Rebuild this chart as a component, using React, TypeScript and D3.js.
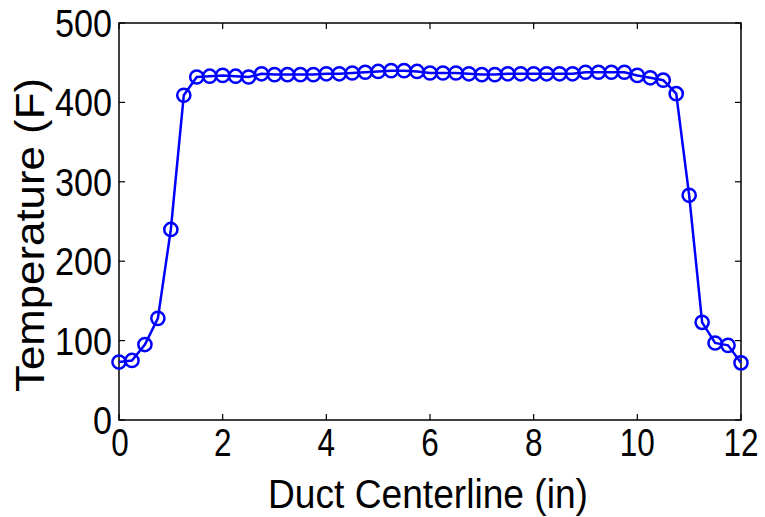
import React from "react";
import * as d3 from "d3";

const positions: number[] = [
  0, 0.25, 0.5, 0.75, 1, 1.25, 1.5, 1.75, 2, 2.25, 2.5, 2.75, 3, 3.25, 3.5, 3.75,
  4, 4.25, 4.5, 4.75, 5, 5.25, 5.5, 5.75, 6, 6.25, 6.5, 6.75, 7, 7.25, 7.5, 7.75,
  8, 8.25, 8.5, 8.75, 9, 9.25, 9.5, 9.75, 10, 10.25, 10.5, 10.75, 11, 11.25, 11.5, 11.75, 12,
];
const temperatures: number[] = [
  73, 75, 95, 128, 240, 409, 432, 433, 434, 433, 432, 436, 435, 435, 435, 435,
  436, 436, 437, 438, 439, 440, 440, 439, 437, 437, 437, 436, 435, 435, 436, 436,
  436, 436, 436, 436, 438, 438, 438, 438, 434, 431, 428, 411, 283, 123, 97, 94, 72,
];
const xTicks: number[] = [0, 2, 4, 6, 8, 10, 12];
const yTicks: number[] = [0, 100, 200, 300, 400, 500];
const xLabel = "Duct Centerline (in)";
const yLabel = "Temperature (F)";

const W = 765;
const H = 517;
const L = 119;
const R = 741;
const T = 23;
const B = 420;
const FONT = "'Liberation Sans', Arial, sans-serif";

export default function App() {
  const x = d3.scaleLinear().domain([0, 12]).range([L, R]);
  const y = d3.scaleLinear().domain([0, 500]).range([B, T]);
  const data = positions.map((p, i) => ({ p, t: temperatures[i] }));
  const line = d3
    .line<{ p: number; t: number }>()
    .x((d) => x(d.p))
    .y((d) => y(d.t));
  const tk = 6;
  const digitW = 17.5;
  return (
    <svg
      width={W}
      height={H}
      style={{ position: "absolute", left: 0, top: 0, background: "#fff" }}
    >
      <rect x={0} y={0} width={W} height={H} fill="#fff" />
      {xTicks.map((v) => (
        <g key={"xt" + v}>
          <line x1={x(v)} x2={x(v)} y1={B} y2={B - tk} stroke="#000" strokeWidth={1.2} />
          <line x1={x(v)} x2={x(v)} y1={T} y2={T + tk} stroke="#000" strokeWidth={1.2} />
          <text
            x={x(v) + (v === 0 ? 1 : 0)}
            y={456}
            textAnchor="middle"
            fontFamily={FONT}
            fontSize={38}
            textLength={String(v).length * digitW}
            lengthAdjust="spacingAndGlyphs"
            fill="#000"
          >
            {v}
          </text>
        </g>
      ))}
      {yTicks.map((v) => (
        <g key={"yt" + v}>
          <line x1={L} x2={L + tk} y1={y(v)} y2={y(v)} stroke="#000" strokeWidth={1.2} />
          <line x1={R} x2={R - tk} y1={y(v)} y2={y(v)} stroke="#000" strokeWidth={1.2} />
          <text
            x={112}
            y={y(v) + 14}
            textAnchor="end"
            fontFamily={FONT}
            fontSize={38}
            textLength={String(v).length * 19}
            lengthAdjust="spacingAndGlyphs"
            fill="#000"
          >
            {v}
          </text>
        </g>
      ))}
      <rect x={L} y={T} width={R - L} height={B - T} fill="none" stroke="#000" strokeWidth={1.5} />
      <path d={line(data) || ""} fill="none" stroke="#0000ff" strokeWidth={2.5} />
      {data.map((d, i) => (
        <circle
          key={i}
          cx={x(d.p)}
          cy={y(d.t)}
          r={6.6}
          fill="none"
          stroke="#0000ff"
          strokeWidth={2.5}
        />
      ))}
      <text
        x={428}
        y={508}
        textAnchor="middle"
        fontFamily={FONT}
        fontSize={40}
        textLength={320}
        lengthAdjust="spacingAndGlyphs"
        fill="#000"
      >
        {xLabel}
      </text>
      <text
        transform={`translate(44,235) rotate(-90)`}
        textAnchor="middle"
        fontFamily={FONT}
        fontSize={40}
        textLength={314}
        lengthAdjust="spacingAndGlyphs"
        fill="#000"
      >
        {yLabel}
      </text>
    </svg>
  );
}
